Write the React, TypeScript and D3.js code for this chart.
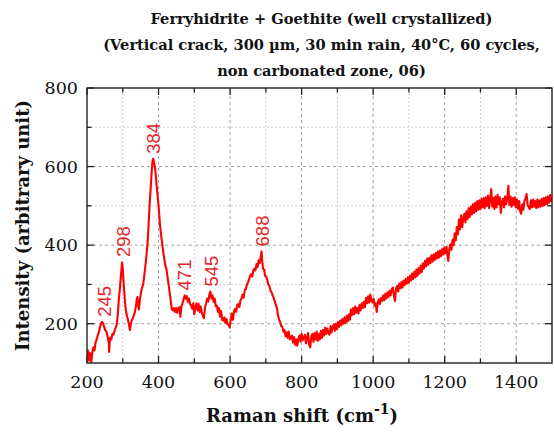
import { useEffect, useRef } from "react";
import * as d3 from "d3";

const titleLines = [
  "Ferryhidrite + Goethite (well crystallized)",
  "(Vertical crack, 300 µm, 30 min rain, 40°C, 60 cycles,",
  "non carbonated zone, 06)",
];

const xMajorTicks = [200, 400, 600, 800, 1000, 1200, 1400];
const xMinorTicks = [300, 500, 700, 900, 1100, 1300, 1500];
const yMajorTicks = [200, 400, 600, 800];
const yMinorTicks = [300, 500, 700];

// labelled Raman bands: [shift, peak intensity]
const peakShifts = [245, 298, 384, 471, 545, 688];
const peakHeights = [205, 357, 620, 272, 282, 384];

// spectrum, [Raman shift, intensity]
const lowBand: [number, number][] = [
  [200, 118], [203, 132], [206, 106], [209, 125], [212, 102], [215, 128], [218, 140], [221, 132],
  [224, 152], [227, 160], [230, 170], [233, 178], [236, 190], [239, 200], [242, 205], [245, 201],
  [248, 192], [251, 183], [254, 180], [257, 170], [259, 160], [261, 150], [262, 128], [263, 148],
  [265, 165], [268, 160], [271, 174], [274, 172], [277, 182], [280, 190], [283, 197], [286, 222],
  [289, 262], [292, 290], [295, 325], [298, 356], [300, 340], [302, 310], [305, 270], [308, 238],
  [311, 222], [314, 212], [317, 200], [320, 184], [322, 196], [325, 208], [328, 214], [331, 222],
  [334, 230], [337, 245], [339, 262], [341, 268], [343, 250], [345, 236], [348, 262], [351, 280],
  [354, 292], [357, 300], [360, 322], [363, 345], [366, 372], [369, 402], [372, 448], [375, 503],
  [378, 545], [381, 590], [383, 612], [385, 620], [387, 612], [389, 604], [391, 590], [393, 570],
  [395, 548], [398, 520], [401, 490], [404, 452], [407, 428], [410, 405], [413, 385], [416, 365],
  [419, 348], [422, 340], [425, 320], [428, 300], [431, 280], [434, 260], [437, 238], [440, 234],
  [443, 240], [446, 230], [449, 240], [452, 228], [455, 238], [458, 242], [461, 218], [464, 244],
  [467, 252], [470, 262], [473, 272], [476, 264], [479, 270], [482, 256], [485, 264], [488, 250],
  [491, 248], [494, 238], [497, 252], [500, 224], [503, 242], [506, 252], [509, 234], [512, 250],
  [515, 230], [518, 244], [521, 228], [524, 220], [527, 214], [530, 242], [533, 252], [536, 264],
  [539, 256], [542, 274], [545, 282], [548, 264], [551, 272], [554, 256], [557, 264], [560, 244],
  [563, 246], [566, 230], [569, 240], [572, 218], [575, 232], [578, 210], [581, 208], [584, 216],
  [587, 202], [590, 212], [593, 198], [596, 198], [599, 190],
];

const midBand: [number, number][] = [
  [602, 212], [605, 226], [608, 210], [611, 232], [614, 238], [617, 230], [620, 248], [623, 250],
  [626, 242], [629, 260], [632, 264], [635, 274], [638, 266], [641, 286], [644, 288], [647, 300],
  [650, 305], [653, 312], [656, 322], [659, 326], [662, 320], [665, 336], [668, 340], [671, 336],
  [674, 352], [677, 344], [680, 362], [683, 354], [686, 372], [688, 384], [690, 358], [692, 340],
  [695, 338], [698, 322], [701, 320], [704, 312], [707, 300], [710, 296], [713, 284], [716, 280],
  [719, 272], [722, 266], [725, 256], [728, 248], [731, 240], [734, 222], [737, 210], [740, 204],
  [743, 194], [746, 192], [749, 180], [752, 184], [755, 168], [758, 178], [761, 164], [764, 180],
  [767, 160], [770, 164], [773, 170], [776, 152], [779, 166], [782, 146], [785, 160], [788, 144],
  [791, 162], [794, 170], [797, 154], [800, 174], [803, 158], [806, 164], [809, 172], [812, 150],
  [815, 164], [818, 176], [821, 146], [824, 140], [827, 166], [830, 174], [833, 154], [836, 176],
  [839, 160], [842, 180], [845, 156], [848, 174], [851, 160], [854, 182], [857, 164], [860, 184],
  [863, 170], [866, 190], [869, 174], [872, 188], [875, 176], [878, 172], [881, 194], [884, 178],
  [887, 192], [890, 198], [893, 182], [896, 200], [899, 186], [902, 204], [905, 192], [908, 208],
  [911, 196], [914, 212], [917, 200], [920, 216], [923, 202], [926, 220], [929, 206], [932, 224],
  [935, 210], [938, 236], [941, 222], [944, 240], [947, 224], [950, 244], [953, 228], [956, 240],
  [959, 226], [962, 248], [965, 234], [968, 252], [971, 240], [974, 256], [977, 242], [980, 266],
  [983, 252], [986, 270], [989, 254], [992, 274], [995, 258], [998, 254],
];

const highBand: [number, number][] = [
  [1001, 264], [1004, 246], [1007, 252], [1010, 230], [1013, 254], [1016, 262], [1019, 250], [1022, 266],
  [1025, 258], [1028, 272], [1031, 260], [1034, 276], [1037, 264], [1040, 280], [1043, 268], [1046, 284],
  [1049, 272], [1052, 288], [1055, 292], [1058, 272], [1061, 258], [1064, 290], [1067, 296], [1070, 282],
  [1073, 302], [1076, 290], [1079, 306], [1082, 292], [1085, 310], [1088, 298], [1091, 314], [1094, 302],
  [1097, 318], [1100, 304], [1103, 322], [1106, 310], [1109, 328], [1112, 314], [1115, 332], [1118, 318],
  [1121, 338], [1124, 322], [1127, 342], [1130, 328], [1133, 348], [1136, 332], [1139, 354], [1142, 340],
  [1145, 360], [1148, 346], [1151, 366], [1154, 350], [1157, 368], [1160, 354], [1163, 374], [1166, 358],
  [1169, 376], [1172, 362], [1175, 380], [1178, 366], [1181, 384], [1184, 368], [1187, 386], [1190, 372],
  [1193, 390], [1196, 376], [1199, 394], [1202, 380], [1205, 396], [1208, 372], [1210, 360], [1213, 390],
  [1216, 402], [1219, 388], [1222, 414], [1225, 400], [1228, 430], [1231, 412], [1234, 446], [1237, 428],
  [1240, 466], [1243, 440], [1246, 476], [1249, 446], [1252, 468], [1255, 480], [1258, 458], [1261, 486],
  [1264, 466], [1267, 494], [1270, 472], [1273, 498], [1276, 478], [1279, 504], [1282, 482], [1285, 508],
  [1288, 486], [1291, 512], [1294, 490], [1297, 514], [1300, 492], [1303, 518], [1306, 496], [1309, 520],
  [1312, 494], [1315, 522], [1318, 500], [1321, 526], [1324, 494], [1327, 516], [1330, 543], [1333, 498],
  [1336, 520], [1339, 492], [1342, 524], [1345, 496], [1348, 528], [1351, 504], [1354, 522], [1357, 482],
  [1360, 510], [1363, 518], [1366, 496], [1369, 524], [1372, 504], [1375, 520], [1378, 551], [1381, 502],
  [1384, 524], [1387, 498], [1390, 520], [1393, 502], [1396, 522], [1399, 496], [1402, 516], [1405, 492],
  [1408, 512], [1411, 486], [1414, 480], [1417, 504], [1420, 490], [1423, 512], [1426, 520], [1429, 530],
  [1432, 502], [1435, 496], [1438, 492], [1441, 514], [1444, 496], [1447, 516], [1450, 498], [1453, 512],
  [1456, 494], [1459, 516], [1462, 496], [1465, 514], [1468, 498], [1471, 518], [1474, 500], [1477, 520],
  [1480, 502], [1483, 522], [1486, 504], [1489, 524], [1492, 508], [1495, 528], [1498, 512], [1500, 520],
];

const boldSerif = "'DejaVu Serif', serif";
const tickFont = "'DejaVu Serif', serif";

export default function App() {
  const ref = useRef<SVGSVGElement>(null);

  useEffect(() => {
    if (!ref.current) return;
    const width = 554;
    const height = 435;
    const margin = { top: 88, right: 2, bottom: 72, left: 87 };

    const svg = d3.select(ref.current);
    svg.selectAll("*").remove();

    const x = d3.scaleLinear().domain([200, 1500]).range([margin.left, width - margin.right]);
    const y = d3.scaleLinear().domain([100, 800]).range([height - margin.bottom, margin.top]);
    const [x0, x1] = x.range();
    const [y0, y1] = y.range();

    svg.append("rect").attr("width", width).attr("height", height).attr("fill", "#fff");

    // title
    svg
      .append("g")
      .selectAll("text")
      .data(titleLines)
      .join("text")
      .attr("x", (x0 + x1) / 2 + 2)
      .attr("y", (_, i) => 24 + i * 26)
      .attr("text-anchor", "middle")
      .attr("font-family", boldSerif)
      .attr("font-weight", "bold")
      .attr("font-size", 14.6)
      .attr("fill", "#111")
      .text((d) => d);

    // grid
    const grid = svg.append("g");
    const gridStyle = (sel: any, major: boolean) =>
      sel
        .attr("stroke", major ? "#8c8c8c" : "#c4c4c4")
        .attr("stroke-width", 0.8)
        .attr("stroke-dasharray", major ? "3,3" : "2,2");

    grid
      .selectAll(".vmaj")
      .data(xMajorTicks.filter((d) => d > 200))
      .join("line")
      .attr("x1", (d) => x(d))
      .attr("x2", (d) => x(d))
      .attr("y1", y0)
      .attr("y2", y1)
      .call(gridStyle, true);
    grid
      .selectAll(".vmin")
      .data(xMinorTicks.filter((d) => d < 1500))
      .join("line")
      .attr("x1", (d) => x(d))
      .attr("x2", (d) => x(d))
      .attr("y1", y0)
      .attr("y2", y1)
      .call(gridStyle, false);
    grid
      .selectAll(".hmaj")
      .data(yMajorTicks.filter((d) => d < 800))
      .join("line")
      .attr("x1", x0)
      .attr("x2", x1)
      .attr("y1", (d) => y(d))
      .attr("y2", (d) => y(d))
      .call(gridStyle, true);
    grid
      .selectAll(".hmin")
      .data(yMinorTicks)
      .join("line")
      .attr("x1", x0)
      .attr("x2", x1)
      .attr("y1", (d) => y(d))
      .attr("y2", (d) => y(d))
      .call(gridStyle, false);

    // spectrum
    const spectrum = [...lowBand, ...midBand, ...highBand];
    const line = d3
      .line<[number, number]>()
      .x((d) => x(d[0]))
      .y((d) => y(d[1]));

    svg
      .append("defs")
      .append("clipPath")
      .attr("id", "plot-clip")
      .append("rect")
      .attr("x", x0)
      .attr("y", y1)
      .attr("width", x1 - x0)
      .attr("height", y0 - y1);

    svg
      .append("path")
      .datum(spectrum)
      .attr("clip-path", "url(#plot-clip)")
      .attr("d", line)
      .attr("fill", "none")
      .attr("stroke", "#ff0000")
      .attr("stroke-width", 2.1)
      .attr("stroke-linejoin", "round");

    // peak labels
    svg
      .append("g")
      .selectAll("text")
      .data(peakShifts)
      .join("text")
      .attr("transform", (d, i) => `translate(${x(d) + 1},${y(peakHeights[i]) - 5}) rotate(-90)`)
      .attr("dominant-baseline", "central")
      .attr("font-family", "'Liberation Sans', Arial, sans-serif")
      .attr("font-size", 18.5)
      .attr("fill", "#e4262c")
      .text((d) => String(d));

    // frame
    svg
      .append("rect")
      .attr("x", x0)
      .attr("y", y1)
      .attr("width", x1 - x0)
      .attr("height", y0 - y1)
      .attr("fill", "none")
      .attr("stroke", "#222")
      .attr("stroke-width", 1.4);

    // inward ticks on all four sides
    const tickGroup = svg.append("g").attr("stroke", "#222").attr("stroke-width", 1.3);
    const xTickData = [
      ...xMajorTicks.map((v) => ({ v, len: 7 })),
      ...xMinorTicks.filter((v) => v < 1500).map((v) => ({ v, len: 4.5 })),
    ];
    const yTickData = [
      ...yMajorTicks.map((v) => ({ v, len: 7 })),
      ...yMinorTicks.map((v) => ({ v, len: 4.5 })),
    ];
    tickGroup
      .selectAll(".xb")
      .data(xTickData)
      .join("line")
      .attr("x1", (d) => x(d.v))
      .attr("x2", (d) => x(d.v))
      .attr("y1", y0)
      .attr("y2", (d) => y0 - d.len);
    tickGroup
      .selectAll(".xt")
      .data(xTickData)
      .join("line")
      .attr("x1", (d) => x(d.v))
      .attr("x2", (d) => x(d.v))
      .attr("y1", y1)
      .attr("y2", (d) => y1 + d.len);
    tickGroup
      .selectAll(".yl")
      .data(yTickData)
      .join("line")
      .attr("x1", x0)
      .attr("x2", (d) => x0 + d.len)
      .attr("y1", (d) => y(d.v))
      .attr("y2", (d) => y(d.v));
    tickGroup
      .selectAll(".yr")
      .data(yTickData)
      .join("line")
      .attr("x1", x1)
      .attr("x2", (d) => x1 - d.len)
      .attr("y1", (d) => y(d.v))
      .attr("y2", (d) => y(d.v));

    // tick labels
    svg
      .append("g")
      .selectAll("text")
      .data(xMajorTicks)
      .join("text")
      .attr("x", (d) => x(d))
      .attr("y", y0 + 25)
      .attr("text-anchor", "middle")
      .attr("font-family", tickFont)
      .attr("font-size", 17.5)
      .attr("fill", "#111")
      .text((d) => String(d));

    svg
      .append("g")
      .selectAll("text")
      .data(yMajorTicks)
      .join("text")
      .attr("x", x0 - 9)
      .attr("y", (d) => y(d))
      .attr("dy", "0.36em")
      .attr("text-anchor", "end")
      .attr("font-family", tickFont)
      .attr("font-size", 17.5)
      .attr("fill", "#111")
      .text((d) => String(d));

    // axis titles
    const xTitle = svg
      .append("text")
      .attr("x", 302)
      .attr("y", 422)
      .attr("text-anchor", "middle")
      .attr("font-family", boldSerif)
      .attr("font-weight", "bold")
      .attr("font-size", 18)
      .attr("fill", "#111");
    xTitle.append("tspan").text("Raman shift (cm");
    xTitle.append("tspan").attr("dy", -8).attr("font-size", 14).text("-1");
    xTitle.append("tspan").attr("dy", 8).text(")");

    svg
      .append("text")
      .attr("transform", `translate(29,${(y0 + y1) / 2}) rotate(-90)`)
      .attr("text-anchor", "middle")
      .attr("font-family", boldSerif)
      .attr("font-weight", "bold")
      .attr("font-size", 18)
      .attr("fill", "#111")
      .text("Intensity (arbitrary unit)");
  }, []);

  return (
    <svg
      ref={ref}
      width={554}
      height={435}
      style={{ position: "absolute", left: 0, top: 0, display: "block" }}
    />
  );
}
